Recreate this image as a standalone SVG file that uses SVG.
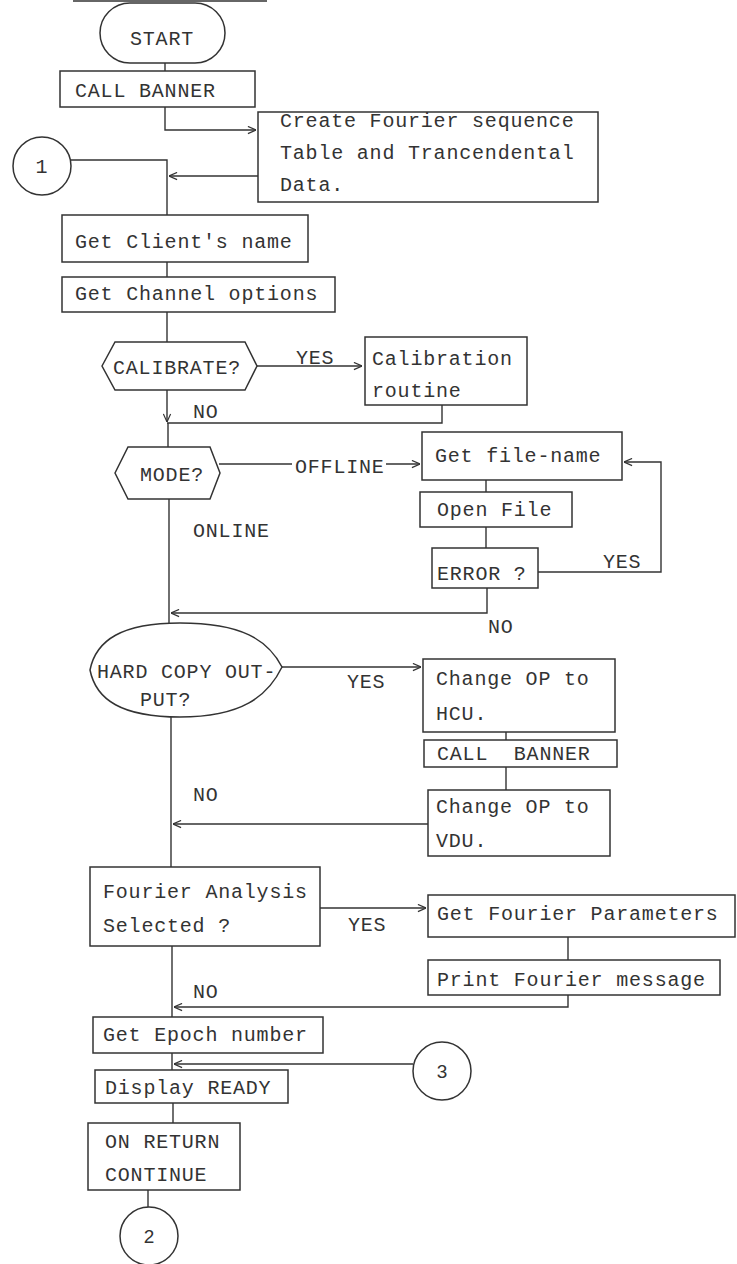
<svg xmlns="http://www.w3.org/2000/svg" width="737" height="1264" viewBox="0 0 737 1264">
<defs>
<style>
.b{fill:none;stroke:#333;stroke-width:1.5}
.c{fill:none;stroke:#333;stroke-width:1.4}
.t{font-family:"Liberation Mono","Courier New",monospace;font-size:20px;letter-spacing:0.8px;fill:#333;white-space:pre}
.n{font-family:"Liberation Sans",Arial,sans-serif;font-size:19px;fill:#333;text-anchor:middle}
</style>
<marker id="arr" viewBox="0 0 10 10" refX="10" refY="5" markerWidth="9" markerHeight="9" orient="auto" markerUnits="userSpaceOnUse">
<path d="M1,1 L10,5 L1,9" fill="none" stroke="#333" stroke-width="1.3"/>
</marker>
</defs>
<rect width="737" height="1264" fill="#fff"/>
<line x1="73" y1="1" x2="267" y2="1" class="c"/>

<g id="connectors">
<path class="c" d="M165,63 V71"/>
<path class="c" d="M165,107 V130 H256" marker-end="url(#arr)"/>
<path class="c" d="M70,160 H167 V215"/>
<path class="c" d="M258,176 H169" marker-end="url(#arr)"/>
<path class="c" d="M167,262 V277"/>
<path class="c" d="M167,312 V342"/>
<path class="c" d="M257,366 H362" marker-end="url(#arr)"/>
<path class="c" d="M167,390 V422" marker-end="url(#arr)"/>
<path class="c" d="M442,405 V423 H167 M168,423 V447"/>
<path class="c" d="M219,464 H292"/>
<path class="c" d="M386,464 H420" marker-end="url(#arr)"/>
<path class="c" d="M486,480 V492"/>
<path class="c" d="M486,527 V548"/>
<path class="c" d="M538,572 H661 V462 H624" marker-end="url(#arr)"/>
<path class="c" d="M487,588 V613 H171" marker-end="url(#arr)"/>
<path class="c" d="M169,499 V623"/>
<path class="c" d="M282,667 H421" marker-end="url(#arr)"/>
<path class="c" d="M506,732 V740"/>
<path class="c" d="M506,767 V790"/>
<path class="c" d="M428,824 H173" marker-end="url(#arr)"/>
<path class="c" d="M171,717 V867"/>
<path class="c" d="M320,908 H426" marker-end="url(#arr)"/>
<path class="c" d="M568,937 V960"/>
<path class="c" d="M568,995 V1007 H174" marker-end="url(#arr)"/>
<path class="c" d="M172,946 V1017"/>
<path class="c" d="M172,1053 V1070"/>
<path class="c" d="M413,1064 H174" marker-end="url(#arr)"/>
<path class="c" d="M173,1103 V1123"/>
<path class="c" d="M148,1190 V1207"/>
<text class="t" x="296" y="364">YES</text>
<text class="t" x="193" y="418">NO</text>
<text class="t" x="295" y="473">OFFLINE</text>
<text class="t" x="193" y="537">ONLINE</text>
<text class="t" x="603" y="568">YES</text>
<text class="t" x="488" y="633">NO</text>
<text class="t" x="347" y="688">YES</text>
<text class="t" x="193" y="801">NO</text>
<text class="t" x="348" y="931">YES</text>
<text class="t" x="193" y="998">NO</text>
</g>

<g id="start">
<rect class="b" x="100" y="3" width="125" height="60" rx="30"/>
<text class="t" x="162" y="45" text-anchor="middle">START</text>
</g>
<g id="call-banner-1">
<rect class="b" x="60" y="71" width="195" height="36"/>
<text class="t" x="75" y="97">CALL BANNER</text>
</g>
<g id="create-table">
<rect class="b" x="258" y="112" width="340" height="90"/>
<text class="t" x="280" y="127">Create Fourier sequence</text>
<text class="t" x="280" y="159">Table and Trancendental</text>
<text class="t" x="280" y="191">Data.</text>
</g>
<g id="conn-1">
<circle class="b" cx="42" cy="166" r="29"/>
<text class="t" x="42" y="173" text-anchor="middle">1</text>
</g>
<g id="client-name">
<rect class="b" x="62" y="215" width="246" height="47"/>
<text class="t" x="75" y="248">Get Client's name</text>
</g>
<g id="channel-options">
<rect class="b" x="62" y="277" width="273" height="35"/>
<text class="t" x="75" y="300">Get Channel options</text>
</g>
<g id="calibrate">
<polygon class="b" points="102,366 115,342 245,342 257,366 245,390 115,390"/>
<text class="t" x="113" y="374">CALIBRATE?</text>
</g>
<g id="calibration-routine">
<rect class="b" x="365" y="337" width="162" height="68"/>
<text class="t" x="372" y="365">Calibration</text>
<text class="t" x="372" y="397">routine</text>
</g>
<g id="mode">
<polygon class="b" points="115,473 128,447 210,447 220,473 210,499 128,499"/>
<text class="t" x="140" y="481">MODE?</text>
</g>
<g id="get-file-name">
<rect class="b" x="422" y="432" width="200" height="48"/>
<text class="t" x="435" y="462">Get file-name</text>
</g>
<g id="open-file">
<rect class="b" x="420" y="492" width="152" height="35"/>
<text class="t" x="437" y="516">Open File</text>
</g>
<g id="error">
<rect class="b" x="432" y="548" width="106" height="40"/>
<text class="t" x="437" y="580">ERROR ?</text>
</g>
<g id="hard-copy">
<path class="b" d="M90,670 C96,640 122,623 180,623 C242,623 268,640 282,667 C268,696 242,717 180,717 C122,717 96,700 90,670 Z"/>
<text class="t" x="97" y="678">HARD COPY OUT-</text>
<text class="t" x="140" y="706">PUT?</text>
</g>
<g id="change-hcu">
<rect class="b" x="423" y="659" width="192" height="73"/>
<text class="t" x="436" y="685">Change OP to</text>
<text class="t" x="436" y="720">HCU.</text>
</g>
<g id="call-banner-2">
<rect class="b" x="424" y="740" width="193" height="27"/>
<text class="t" x="437" y="760">CALL  BANNER</text>
</g>
<g id="change-vdu">
<rect class="b" x="428" y="790" width="182" height="66"/>
<text class="t" x="436" y="813">Change OP to</text>
<text class="t" x="436" y="847">VDU.</text>
</g>
<g id="fourier-selected">
<rect class="b" x="90" y="867" width="230" height="79"/>
<text class="t" x="103" y="898">Fourier Analysis</text>
<text class="t" x="103" y="932">Selected ?</text>
</g>
<g id="fourier-params">
<rect class="b" x="428" y="895" width="307" height="42"/>
<text class="t" x="437" y="920">Get Fourier Parameters</text>
</g>
<g id="fourier-message">
<rect class="b" x="428" y="960" width="292" height="35"/>
<text class="t" x="437" y="986">Print Fourier message</text>
</g>
<g id="epoch">
<rect class="b" x="93" y="1017" width="230" height="36"/>
<text class="t" x="103" y="1041">Get Epoch number</text>
</g>
<g id="conn-3">
<circle class="b" cx="442" cy="1071" r="29"/>
<text class="n" x="442" y="1078">3</text>
</g>
<g id="display-ready">
<rect class="b" x="95" y="1070" width="193" height="33"/>
<text class="t" x="105" y="1094">Display READY</text>
</g>
<g id="on-return">
<rect class="b" x="88" y="1123" width="152" height="67"/>
<text class="t" x="105" y="1148">ON RETURN</text>
<text class="t" x="105" y="1181">CONTINUE</text>
</g>
<g id="conn-2">
<circle class="b" cx="149" cy="1236" r="29"/>
<text class="n" x="149" y="1243">2</text>
</g>
</svg>
